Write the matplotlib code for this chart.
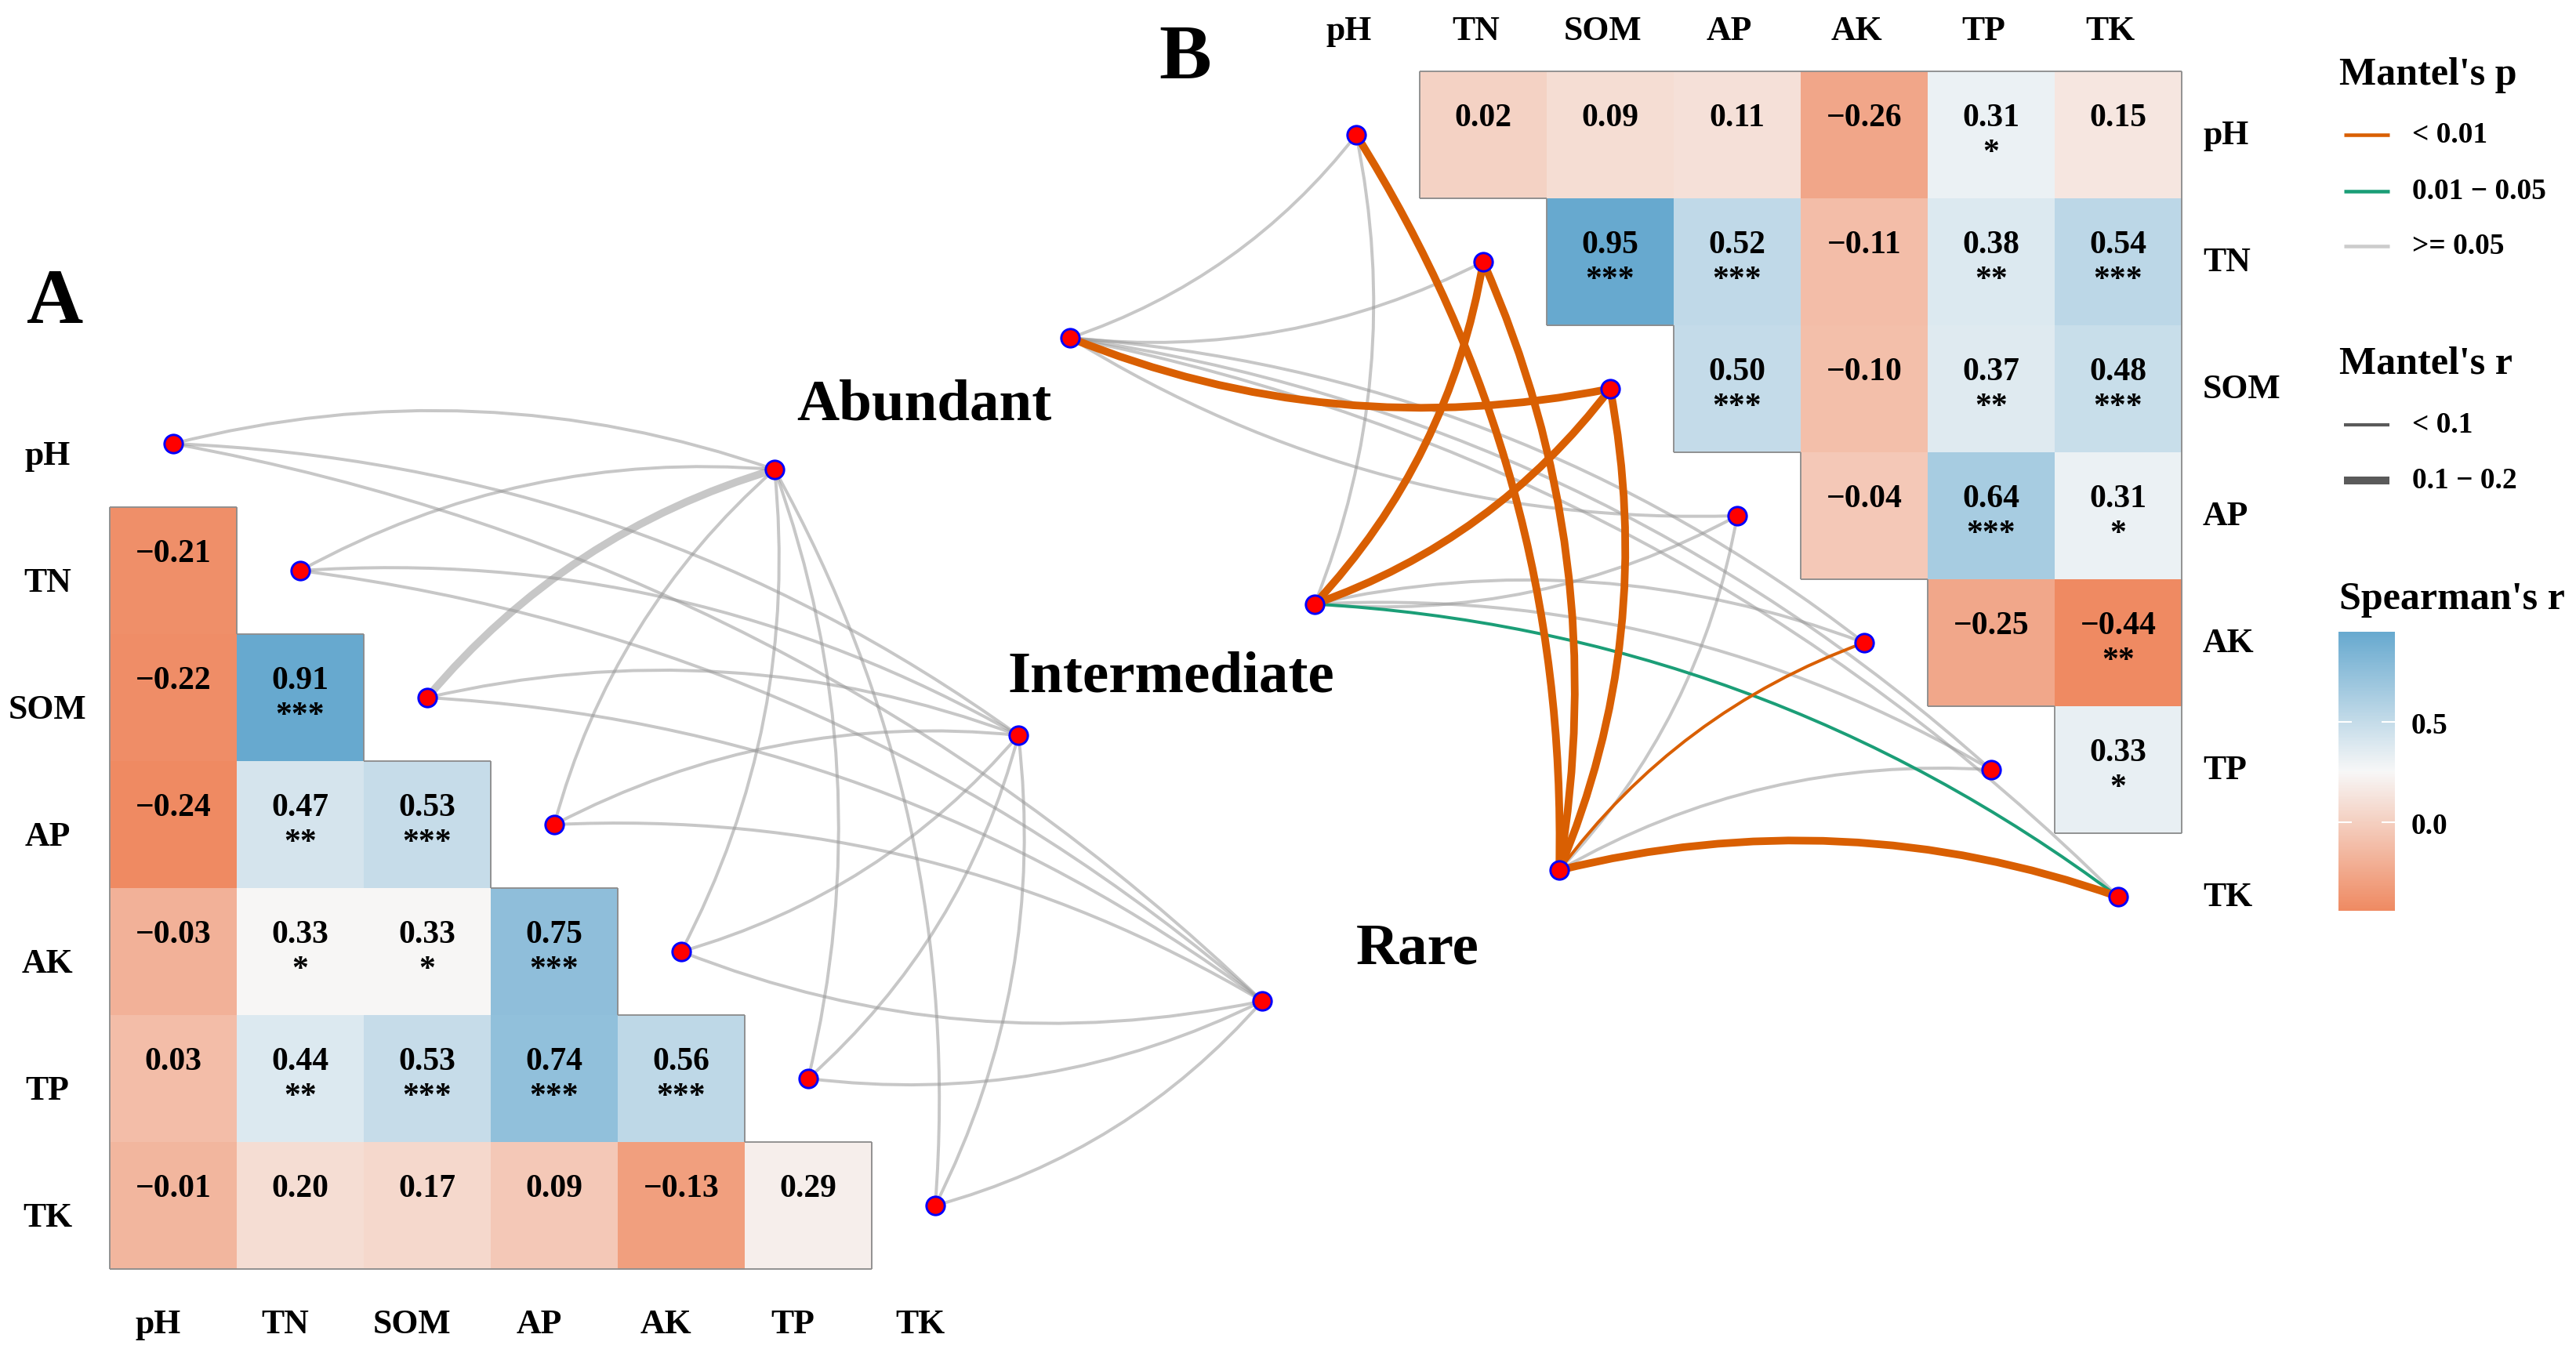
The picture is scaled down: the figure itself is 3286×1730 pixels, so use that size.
import numpy as np
import matplotlib
matplotlib.use('Agg')
import matplotlib.pyplot as plt
from matplotlib.colors import LinearSegmentedColormap, Normalize
from matplotlib.path import Path
from matplotlib.patches import PathPatch
from matplotlib.collections import LineCollection
from matplotlib.cm import ScalarMappable

# ---------------- data ----------------
env_vars = ['pH', 'TN', 'SOM', 'AP', 'AK', 'TP', 'TK']
groups = ['Abundant', 'Intermediate', 'Rare']

# Panel A: Spearman's r, lower triangle (row i holds columns 0..i-1)
A_corr = [
    [],
    [-0.21],
    [-0.22, 0.91],
    [-0.24, 0.47, 0.53],
    [-0.03, 0.33, 0.33, 0.75],
    [0.03, 0.44, 0.53, 0.74, 0.56],
    [-0.01, 0.20, 0.17, 0.09, -0.13, 0.29],
]
A_sig = [
    [],
    [''],
    ['', '***'],
    ['', '**', '***'],
    ['', '*', '*', '***'],
    ['', '**', '***', '***', '***'],
    ['', '', '', '', '', ''],
]

# Panel B: Spearman's r, upper triangle (row i holds columns i+1..6)
B_corr = [
    [0.02, 0.09, 0.11, -0.26, 0.31, 0.15],
    [0.95, 0.52, -0.11, 0.38, 0.54],
    [0.50, -0.10, 0.37, 0.48],
    [-0.04, 0.64, 0.31],
    [-0.25, -0.44],
    [0.33],
    [],
]
B_sig = [
    ['', '', '', '', '*', ''],
    ['***', '***', '', '**', '***'],
    ['***', '', '**', '***'],
    ['', '***', '*'],
    ['', '**'],
    ['*'],
    [],
]

# Mantel test classes (group x env variable)
A_mantel_p = [
    ['>= 0.05', '>= 0.05', '>= 0.05', '>= 0.05', '>= 0.05', '>= 0.05', '>= 0.05'],
    ['>= 0.05', '>= 0.05', '>= 0.05', '>= 0.05', '>= 0.05', '>= 0.05', '>= 0.05'],
    ['>= 0.05', '>= 0.05', '>= 0.05', '>= 0.05', '>= 0.05', '>= 0.05', '>= 0.05'],
]
A_mantel_r = [
    ['< 0.1', '< 0.1', '0.1 - 0.2', '< 0.1', '< 0.1', '< 0.1', '< 0.1'],
    ['< 0.1', '< 0.1', '< 0.1', '< 0.1', '< 0.1', '< 0.1', '< 0.1'],
    ['< 0.1', '< 0.1', '< 0.1', '< 0.1', '< 0.1', '< 0.1', '< 0.1'],
]
B_mantel_p = [
    ['>= 0.05', '>= 0.05', '< 0.01', '>= 0.05', '>= 0.05', '>= 0.05', '>= 0.05'],
    ['>= 0.05', '< 0.01', '< 0.01', '>= 0.05', '>= 0.05', '>= 0.05', '0.01 - 0.05'],
    ['< 0.01', '< 0.01', '< 0.01', '>= 0.05', '< 0.01', '>= 0.05', '< 0.01'],
]
B_mantel_r = [
    ['< 0.1', '< 0.1', '0.1 - 0.2', '< 0.1', '< 0.1', '< 0.1', '< 0.1'],
    ['< 0.1', '0.1 - 0.2', '0.1 - 0.2', '< 0.1', '< 0.1', '< 0.1', '< 0.1'],
    ['0.1 - 0.2', '0.1 - 0.2', '0.1 - 0.2', '< 0.1', '< 0.1', '< 0.1', '0.1 - 0.2'],
]

p_levels = ['< 0.01', '0.01 - 0.05', '>= 0.05']
r_levels = ['< 0.1', '0.1 - 0.2']
cbar_ticks = [0.0, 0.5]

# ---------------- styles ----------------
p_colors = {'< 0.01': '#D95F02', '0.01 - 0.05': '#1B9E77', '>= 0.05': '#999999'}
p_alpha = {'< 0.01': 1.0, '0.01 - 0.05': 1.0, '>= 0.05': 0.55}
r_widths = {'< 0.1': 0.95, '0.1 - 0.2': 2.35}
cmap = LinearSegmentedColormap.from_list('spear', ['#EF8A62', '#F7F7F7', '#67A9CF'])

plt.rcParams['font.family'] = ['Liberation Serif', 'DejaVu Serif']
plt.rcParams['font.weight'] = 'bold'

W_PX, H_PX, DPI = 3286, 1731, 300
S = 162.0  # pixels per cell
fig = plt.figure(figsize=(W_PX / DPI, H_PX / DPI), dpi=DPI)
ax = fig.add_axes([0, 0, 1, 1])
ax.set_xlim(0, W_PX / S)
ax.set_ylim(H_PX / S, 0)
ax.axis('off')

n = len(env_vars)


def fmt(v):
    return f'{v:.2f}'.replace('-', '\u2212')


def nice(lev):
    return lev.replace(' - ', ' \u2212 ')


def fill(rows, sigs, lower):
    M = np.full((n, n), np.nan)
    SG = np.full((n, n), '', dtype=object)
    for i, (row, srow) in enumerate(zip(rows, sigs)):
        for k, (v, s) in enumerate(zip(row, srow)):
            j = k if lower else i + 1 + k
            M[i, j] = v
            SG[i, j] = s
    return M, SG


def draw_heatmap(M, SG, ox, oy):
    norm = Normalize(vmin=np.nanmin(M), vmax=np.nanmax(M))
    X = ox + np.arange(n + 1) - 0.5
    Y = oy + np.arange(n + 1) - 0.5
    ax.pcolormesh(X, Y, np.ma.masked_invalid(M), cmap=cmap, norm=norm,
                  shading='flat', edgecolors='face', linewidth=0.2, zorder=1)
    segs = []
    present = ~np.isnan(M)
    for i in range(n):
        for j in range(n):
            if not present[i, j]:
                continue
            x0, x1 = ox + j - 0.5, ox + j + 0.5
            y0, y1 = oy + i - 0.5, oy + i + 0.5
            if i == 0 or not present[i - 1, j]:
                segs.append([(x0, y0), (x1, y0)])
            if i == n - 1 or not present[i + 1, j]:
                segs.append([(x0, y1), (x1, y1)])
            if j == 0 or not present[i, j - 1]:
                segs.append([(x0, y0), (x0, y1)])
            if j == n - 1 or not present[i, j + 1]:
                segs.append([(x1, y0), (x1, y1)])
            ax.text(ox + j, oy + i - 0.136, fmt(M[i, j]), ha='center', va='center',
                    fontsize=10, fontweight='bold', zorder=3)
            if SG[i, j]:
                ax.text(ox + j, oy + i + 0.14, SG[i, j], ha='center', va='center',
                        fontsize=10, fontweight='bold', zorder=3)
    ax.add_collection(LineCollection(segs, colors='#8E8E8E', linewidths=0.45, zorder=2))
    return norm


def draw_links(env_xy, grp_xy, P, R):
    order = {'>= 0.05': 0, '0.01 - 0.05': 1, '< 0.01': 2}
    items = []
    for g in range(len(groups)):
        for e in range(n):
            items.append((order[P[g][e]], g, e))
    items.sort()
    for z, g, e in items:
        p0 = np.array(grp_xy[g])
        p2 = np.array(env_xy[e])
        d = p2 - p0
        L = np.hypot(*d)
        nR = np.array([-d[1], d[0]]) / L
        side = 1.0 if e <= 3 else -1.0
        ctrl = (p0 + p2) / 2 + side * 0.15 * L * nR
        path = Path([p0, ctrl, p2], [Path.MOVETO, Path.CURVE3, Path.CURVE3])
        ax.add_patch(PathPatch(path, fill=False, edgecolor=p_colors[P[g][e]],
                               alpha=p_alpha[P[g][e]], lw=r_widths[R[g][e]],
                               capstyle='butt', zorder=4 + z * 0.1))
    allxy = np.array(list(env_xy) + list(grp_xy))
    ax.plot(allxy[:, 0], allxy[:, 1], 'o', ms=5.6, mfc='#FF0000', mec='#0000FF',
            mew=0.7, ls='none', zorder=6)


# ---------------- Panel A ----------------
oxA, oyA = 221 / S, 567 / S
MA, SGA = fill(A_corr, A_sig, lower=True)
draw_heatmap(MA, SGA, oxA, oyA)
envA = [(oxA + k, oyA + k) for k in range(n)]
grpA = [(oxA + 4.735 + 1.92 * g, oyA + 0.204 + 2.093 * g) for g in range(len(groups))]
draw_links(envA, grpA, A_mantel_p, A_mantel_r)
for i, lab in enumerate(env_vars):
    ax.text(oxA - 0.99, oyA + i + 0.09, lab, ha='center', va='center', fontsize=10.5, fontweight='bold')
    ax.text(oxA + i - 0.12, oyA + 6.93, lab, ha='center', va='center', fontsize=10.5, fontweight='bold')
for g, lab in enumerate(groups):
    gx, gy = grpA[g]
    ax.text(gx + 1.18 + 0.02 * g, gy - 0.51 + 0.05 * g, lab, ha='center', va='center',
            fontsize=18, fontweight='bold')
ax.text(70 / S, 388 / S, 'A', ha='center', va='center', fontsize=24, fontweight='bold')

# ---------------- Panel B ----------------
oxB, oyB = 1730 / S, 173 / S
MB, SGB = fill(B_corr, B_sig, lower=False)
normB = draw_heatmap(MB, SGB, oxB, oyB)
envB = [(oxB + k, oyB + k) for k in range(n)]
grpB = [(oxB - 2.253 + 1.926 * g, oyB + 1.599 + 2.096 * g) for g in range(len(groups))]
draw_links(envB, grpB, B_mantel_p, B_mantel_r)
for i, lab in enumerate(env_vars):
    ax.text(oxB + i - 0.06, oyB - 0.82, lab, ha='center', va='center', fontsize=10.5, fontweight='bold')
    ax.text(oxB + 6.667, oyB + i, lab, ha='left', va='center', fontsize=10.5, fontweight='bold')
ax.text(1512 / S, 75 / S, 'B', ha='center', va='center', fontsize=24, fontweight='bold')

# ---------------- Legends ----------------
lg = fig.add_axes([0, 0, 1, 1], facecolor='none')
lg.set_xlim(0, W_PX)
lg.set_ylim(H_PX, 0)
lg.axis('off')

lg.text(2984, 96, "Mantel's p", ha='left', va='center', fontsize=12, fontweight='bold')
for k, (lev, yy) in enumerate(zip(p_levels, [173, 245, 315])):
    lg.plot([2990, 3048], [yy, yy], color=p_colors[lev] if lev != '>= 0.05' else '#CCCCCC',
            lw=1.1, solid_capstyle='butt')
    lg.text(3077, yy, nice(lev), ha='left', va='center', fontsize=9, fontweight='bold')

lg.text(2984, 465, "Mantel's r", ha='left', va='center', fontsize=12, fontweight='bold')
for lev, yy, lw in zip(r_levels, [543, 614], [1.0, 2.4]):
    lg.plot([2990, 3048], [yy, yy], color='#5A5A5A', lw=lw, solid_capstyle='butt')
    lg.text(3077, yy, nice(lev), ha='left', va='center', fontsize=9, fontweight='bold')

lg.text(2984, 765, "Spearman's r", ha='left', va='center', fontsize=12, fontweight='bold')
cax = fig.add_axes([2983 / W_PX, 1 - 1163 / H_PX, 72 / W_PX, 356 / H_PX])
cb = fig.colorbar(ScalarMappable(norm=normB, cmap=cmap), cax=cax, ticks=cbar_ticks)
cb.outline.set_visible(False)
cb.ax.set_yticklabels([f'{t:.1f}' for t in cbar_ticks])
cb.ax.tick_params(axis='y', direction='in', left=True, right=True, labelleft=False,
                  labelright=True, color='white', length=4, width=0.5, pad=5,
                  labelsize=9)
for t in cb.ax.get_yticklabels():
    t.set_fontweight('bold')

fig.savefig('out.png', dpi=DPI)
